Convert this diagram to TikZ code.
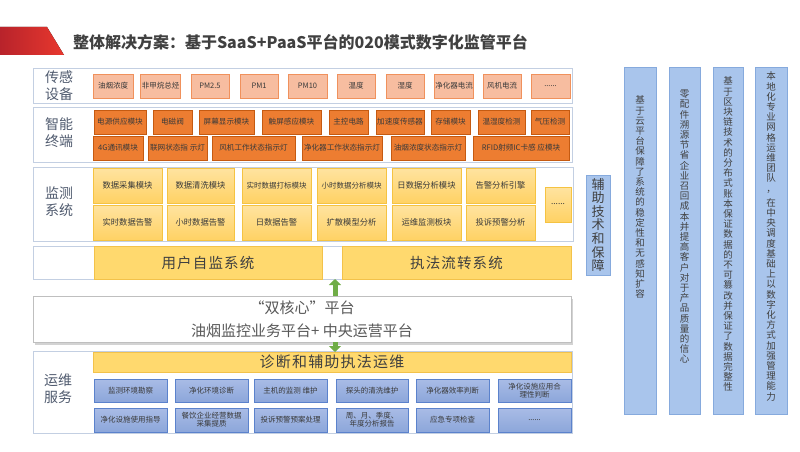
\documentclass[tikz,border=0pt]{standalone}
\usepackage{fontspec}
\setmainfont{Noto Sans CJK SC}
\newfontfamily\spacedfont[LetterSpace=8]{Noto Sans CJK SC}
\usetikzlibrary{shadows,arrows.meta}
\definecolor{titlec}{HTML}{404040}
\definecolor{redL}{HTML}{B8232B}
\definecolor{redR}{HTML}{E8382E}
\definecolor{outerc}{HTML}{C3CFE2}
\definecolor{labc}{HTML}{4F5A6E}
\definecolor{chiptext}{HTML}{3A3A3A}
\definecolor{sensf}{HTML}{F7BDA0}
\definecolor{sensd}{HTML}{F0915C}
\definecolor{termf}{HTML}{ED7D31}
\definecolor{termd}{HTML}{C55A11}
\definecolor{monT}{HTML}{FFE3A0}
\definecolor{monB}{HTML}{FFD264}
\definecolor{mond}{HTML}{F5C342}
\definecolor{yel}{HTML}{FFD96E}
\definecolor{yeld}{HTML}{F3C24A}
\definecolor{opsT}{HTML}{A9BCE6}
\definecolor{opsB}{HTML}{8CA6DA}
\definecolor{opsd}{HTML}{5B82CC}
\definecolor{colf}{HTML}{A9C5EC}
\definecolor{cold}{HTML}{86AADD}
\definecolor{greenc}{HTML}{70AD47}
\definecolor{platd}{HTML}{BFBFBF}
\definecolor{plattext}{HTML}{595959}
\newcommand\mybox[7]{\node[#6, minimum width={(#4-#2)*1pt}, minimum height={(#5-#3)*1pt}] (#1) at ({(#2+#4)/2},{(#3+#5)/2}) {#7};}
\begin{document}
\begin{tikzpicture}[x=1pt,y=-1pt,
  every node/.style={outer sep=0pt, inner sep=1pt},
  outer/.style={draw=outerc, line width=0.8pt, fill=white},
  lab/.style={font=\fontsize{14}{17}\selectfont, text=labc, align=center},
  sens/.style={draw=sensd, fill=sensf, line width=0.6pt, text=chiptext, font=\fontsize{7.5}{8.5}\selectfont},
  term/.style={draw=termd, fill=termf, line width=0.6pt, text=chiptext, font=\fontsize{7.6}{8.5}\selectfont},
  mon/.style={draw=mond, top color=monT, bottom color=monB, line width=0.6pt, text=chiptext, font=\fontsize{8.3}{9}\selectfont},
  monsm/.style={mon, font=\fontsize{7.5}{8.5}\selectfont},
  ybox/.style={draw=yeld, fill=yel, line width=0.5pt, text=titlec, font=\spacedfont\fontsize{14.5}{16}\selectfont},
  ops/.style={draw=opsd, top color=opsT, bottom color=opsB, line width=0.6pt, text=chiptext, align=center, font=\fontsize{7.5}{7.8}\selectfont},
  colbox/.style={draw=cold, fill=colf, line width=0.6pt},
  coltext/.style={text=titlec, align=center, inner sep=0pt, font=\fontsize{9.5}{10.2}\selectfont},
  arrowg/.style={draw=greenc, line width=5pt, -{Triangle[width=12pt,length=6pt]}}
]
\useasboundingbox (0,0) rectangle (800,452);
% title banner
\fill[left color=redL, right color=redR] (0,27) -- (47,27) -- (64,55) -- (0,55) -- cycle;
\node[anchor=west, text=titlec, font=\bfseries\fontsize{16}{18}\selectfont] (title) at (72,42) {整体解决方案：基于SaaS+PaaS平台的020模式数字化监管平台};

% sensor row
\mybox{sensrow}{33}{68}{572}{103}{outer}{}
\node[lab] (senslab) at (59,86) {传感\\设备};
\mybox{s1}{93}{74}{133}{98}{sens}{油烟浓度}
\mybox{s2}{141}{74}{180}{98}{sens}{非甲烷总烃}
\mybox{s3}{191}{74}{229}{98}{sens}{PM2.5}
\mybox{s4}{240}{74}{278}{98}{sens}{PM1}
\mybox{s5}{288}{74}{327}{98}{sens}{PM10}
\mybox{s6}{337}{74}{375}{98}{sens}{温度}
\mybox{s7}{386}{74}{424}{98}{sens}{湿度}
\mybox{s8}{435}{74}{473}{98}{sens}{净化器电流}
\mybox{s9}{483}{74}{521}{98}{sens}{风机电流}
\mybox{s10}{531}{74}{570}{98}{sens}{......}

% smart terminal
\mybox{termrow}{33}{107}{572}{162}{outer}{}
\node[lab] (termlab) at (59,133) {智能\\终端};
\mybox{t1}{94}{110}{146}{134}{term}{电源供应模块}
\mybox{t2}{153}{110}{192}{134}{term}{电磁阀}
\mybox{t3}{199}{110}{254}{134}{term}{屏幕显示模块}
\mybox{t4}{262}{110}{321}{134}{term}{触屏感应模块}
\mybox{t5}{329}{110}{368}{134}{term}{主控电路}
\mybox{t6}{376}{110}{424}{134}{term}{加速度传感器}
\mybox{t7}{431}{110}{470}{134}{term}{存储模块}
\mybox{t8}{478}{110}{525}{134}{term}{温湿度检测}
\mybox{t9}{531}{110}{569}{134}{term}{气压检测}
\mybox{u1}{93}{136}{143}{160}{term}{4G通讯模块}
\mybox{u2}{148}{136}{207}{160}{term}{联网状态指 示灯}
\mybox{u3}{212}{136}{295}{160}{term}{风机工作状态指示灯}
\mybox{u4}{302}{136}{382}{160}{term}{净化器工作状态指示灯}
\mybox{u5}{391}{136}{465}{160}{term}{油烟浓度状态指示灯}
\mybox{u6}{473}{136}{569}{160}{term}{RFID射频IC卡感 应模块}

% monitoring
\mybox{monrow}{33}{167}{573}{241}{outer}{}
\node[lab] (monlab) at (59,202) {监测\\系统};
\mybox{m1}{93}{168}{162}{203}{mon}{数据采集模块}
\mybox{m2}{167}{168}{234}{203}{mon}{数据清洗模块}
\mybox{m3}{242}{168}{311}{203}{monsm}{实时数据打标模块}
\mybox{m4}{317}{168}{386}{203}{monsm}{小时数据分析模块}
\mybox{m5}{392}{168}{461}{203}{mon}{日数据分析模块}
\mybox{m6}{466}{168}{535}{203}{mon}{告警分析引擎}
\mybox{n1}{93}{205}{162}{240}{mon}{实时数据告警}
\mybox{n2}{167}{205}{234}{240}{mon}{小时数据告警}
\mybox{n3}{242}{205}{311}{240}{mon}{日数据告警}
\mybox{n4}{317}{205}{386}{240}{mon}{扩散模型分析}
\mybox{n5}{392}{205}{461}{240}{mon}{运维监测板块}
\mybox{n6}{466}{205}{535}{240}{mon}{投诉预警分析}
\mybox{m7}{545}{187}{571}{222}{mon}{......}

% user / enforcement row
\mybox{urow}{33}{246}{571}{279}{outer}{}
\mybox{user}{94}{246}{322}{279}{ybox}{用户自监系统}
\mybox{law}{342}{246}{571}{279}{ybox}{执法流转系统}

% platform
\mybox{plat}{33}{296}{571}{342}{draw=platd, fill=white, line width=0.6pt, drop shadow={shadow xshift=2pt, shadow yshift=-3pt, opacity=0.35, fill=gray}, text=plattext, align=center, font=\fontsize{15}{23}\selectfont}{“双核心”平台\\油烟监控业务平台+ 中央运营平台}

% ops
\mybox{opsrow}{33}{351}{572}{433}{outer}{}
\node[lab] (opslab) at (58,389) {运维\\服务};
\mybox{diag}{93}{352}{571}{372}{draw=yeld, fill=yel, line width=0.5pt, text=titlec, font=\spacedfont\fontsize{15}{17}\selectfont}{诊断和辅助执法运维}
\mybox{o1}{94}{379}{167}{402}{ops}{监测环境勘察}
\mybox{o2}{175}{379}{248}{402}{ops}{净化环境诊断}
\mybox{o3}{254}{379}{327}{402}{ops}{主机的监测 维护}
\mybox{o4}{336}{379}{408}{402}{ops}{探头的清洗维护}
\mybox{o5}{416}{379}{489}{402}{ops}{净化器效率判断}
\mybox{o6}{498}{379}{571}{402}{ops}{净化设施应用合\\理性判断}
\mybox{p1}{94}{408}{167}{432}{ops}{净化设施使用指导}
\mybox{p2}{175}{408}{248}{432}{ops}{餐饮企业经营数据\\采集提质}
\mybox{p3}{254}{408}{327}{432}{ops}{投诉预警预案处理}
\mybox{p4}{336}{408}{408}{432}{ops}{周、月、季度、\\年度分析报告}
\mybox{p5}{416}{408}{489}{432}{ops}{应急专项检查}
\mybox{p6}{498}{408}{571}{432}{ops}{......}

% green arrows
\coordinate (ax) at (335,0);
\draw[arrowg] (plat.north -| ax) -- (urow.south -| ax);
\draw[arrowg] (plat.south -| ax) -- (diag.north -| ax);

% right side
\mybox{aux}{586}{175}{610}{275}{colbox, text=titlec, align=center, inner sep=0pt, font=\fontsize{13}{13.6}\selectfont}{辅\\助\\技\\术\\和\\保\\障}
\mybox{c1}{624}{67}{656}{414}{colbox}{}
\mybox{c2}{669}{67}{700}{414}{colbox}{}
\mybox{c3}{713}{67}{743}{414}{colbox}{}
\mybox{c4}{755}{67}{787}{414}{colbox}{}
\node[coltext, anchor=north] (c1t) at (640,96) {基\\于\\云\\平\\台\\保\\障\\了\\系\\统\\的\\稳\\定\\性\\和\\无\\感\\知\\扩\\容};
\node[coltext, anchor=north] (c2t) at (684.5,90) {零\\配\\件\\溯\\源\\节\\省\\企\\业\\召\\回\\成\\本\\并\\提\\高\\客\\户\\对\\于\\产\\品\\质\\量\\的\\信\\心};
\node[coltext, anchor=north] (c3t) at (728,77) {基\\于\\区\\块\\链\\技\\术\\的\\分\\布\\式\\账\\本\\保\\证\\数\\据\\的\\不\\可\\篡\\改\\并\\保\\证\\了\\数\\据\\完\\整\\性};
\node[coltext, anchor=north] (c4t) at (771,72) {本\\地\\化\\专\\业\\网\\格\\运\\维\\团\\队\\，\\[4pt]在\\中\\央\\调\\度\\基\\础\\上\\以\\数\\字\\化\\方\\式\\加\\强\\管\\理\\能\\力};
\end{tikzpicture}
\end{document}
